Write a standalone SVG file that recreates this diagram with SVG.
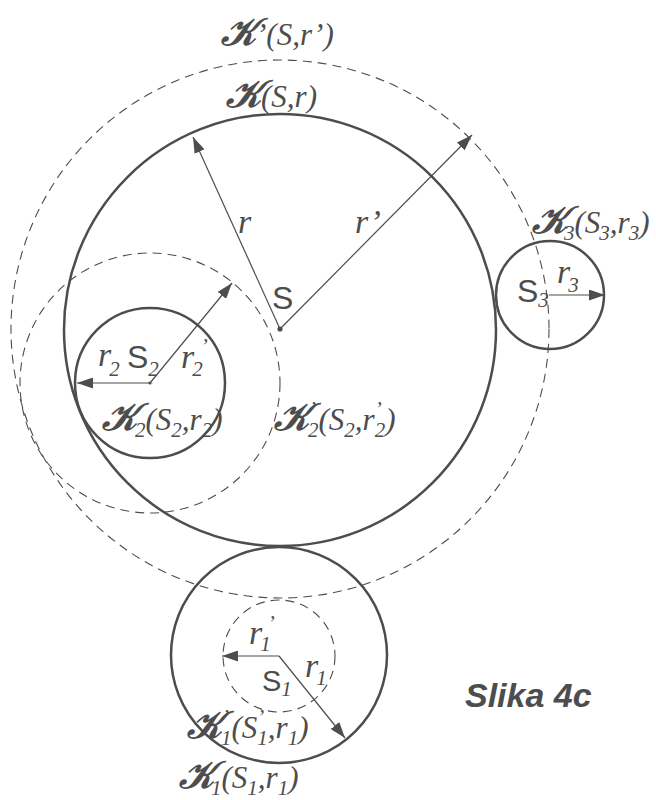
<svg xmlns="http://www.w3.org/2000/svg" width="656" height="800" viewBox="0 0 656 800">
<style>
.c{fill:none;stroke:#4d4d4d;stroke-width:2.5}
.d{fill:none;stroke:#4d4d4d;stroke-width:1.1;stroke-dasharray:9 6}
.a{fill:none;stroke:#4d4d4d;stroke-width:1.2;marker-end:url(#ah)}
.t{font-family:"Liberation Serif","DejaVu Serif",serif;font-style:italic;fill:#4d4d4d;font-size:31px}
.b{font-size:34px}
.u{font-size:21px}
.s{font-family:"Liberation Sans",Arial,sans-serif;fill:#4d4d4d;font-size:32px}
.k{font-family:"DejaVu Serif","DejaVu Sans","Noto Sans",serif;font-weight:bold;font-size:38px}
.sl{font-family:"Liberation Sans",Arial,sans-serif;font-weight:bold;font-style:italic;fill:#4d4d4d;font-size:34px}
</style>
<defs>
<marker id="ah" markerUnits="userSpaceOnUse" markerWidth="16" markerHeight="11" refX="16" refY="5.5" orient="auto">
<path d="M0,0 L16,5.5 L0,11 z" fill="#4d4d4d"/>
</marker>
</defs>
<rect width="656" height="800" fill="#fff"/>

<g id="K-prime">
<circle class="d" cx="280" cy="329" r="269"/>
<text class="t" x="221" y="45"><tspan class="k">𝒦</tspan>’(S,r’)</text>
</g>

<g id="K">
<circle class="c" cx="280" cy="330" r="216"/>
<circle cx="280" cy="329" r="2.6" fill="#4d4d4d"/>
<text class="t" x="226" y="107"><tspan class="k">𝒦</tspan>(S,r)</text>
<text class="s" x="272" y="309">S</text>
</g>

<g id="K2">
<circle class="c" cx="150" cy="383" r="75"/>
<circle cx="150" cy="383" r="1.6" fill="#4d4d4d"/>
<text class="s" x="127" y="368">S<tspan class="t u" dy="8">2</tspan></text>
<text class="t" x="102" y="430"><tspan class="k">𝒦</tspan><tspan class="u" dx="-2" dy="7">2</tspan><tspan dy="-7">(S</tspan><tspan class="u" dy="7">2</tspan><tspan dy="-7">,r</tspan><tspan class="u" dy="7">2</tspan><tspan dy="-7">)</tspan></text>
</g>

<g id="K2-prime">
<circle class="d" cx="150" cy="383" r="130"/>
<text class="t" x="274" y="430"><tspan class="k">𝒦</tspan><tspan class="u" dy="-14">’</tspan><tspan class="u" dx="-8" dy="21">2</tspan><tspan dy="-7">(S</tspan><tspan class="u" dy="7">2</tspan><tspan dy="-7">,r</tspan><tspan class="u" dy="-14">’</tspan><tspan class="u" dx="-7" dy="21">2</tspan><tspan dy="-7">)</tspan></text>
</g>

<g id="K3">
<circle class="c" cx="550" cy="295" r="54"/>
<text class="s" x="517" y="302">S<tspan class="t u" dy="5">3</tspan></text>
<text class="t" x="532" y="233"><tspan class="k">𝒦</tspan><tspan class="u" dx="-3" dy="7">3</tspan><tspan dy="-7">(S</tspan><tspan class="u" dx="-1" dy="7">3</tspan><tspan dy="-7">,r</tspan><tspan class="u" dx="-1" dy="7">3</tspan><tspan dy="-7">)</tspan></text>
</g>

<g id="K1">
<circle class="c" cx="279" cy="655" r="108"/>
<text class="s" x="262" y="691" style="font-size:29px">S<tspan class="t u" dy="5">1</tspan></text>
<text class="t" x="179" y="788"><tspan class="k">𝒦</tspan><tspan class="u" dx="-3" dy="7">1</tspan><tspan dy="-7">(S</tspan><tspan class="u" dy="7">1</tspan><tspan dy="-7">,r</tspan><tspan class="u" dy="7">1</tspan><tspan dy="-7">)</tspan></text>
</g>

<g id="K1-prime">
<circle class="d" cx="279" cy="656" r="56"/>
<text class="t" x="187" y="738"><tspan class="k">𝒦</tspan><tspan class="u" dy="-14">’</tspan><tspan class="u" dx="-8" dy="21">1</tspan><tspan dy="-7">(S</tspan><tspan class="u" dy="-14">’</tspan><tspan class="u" dx="-7" dy="21">1</tspan><tspan dy="-7">,r</tspan><tspan class="u" dy="7">1</tspan><tspan dy="-7">)</tspan></text>
</g>

<g id="connectors">
<line class="a" x1="280" y1="329" x2="193" y2="137"/>
<line class="a" x1="280" y1="329" x2="472" y2="135"/>
<line class="a" x1="150" y1="383" x2="77" y2="383"/>
<line class="a" x1="150" y1="383" x2="232" y2="283"/>
<line class="a" x1="549" y1="295" x2="605" y2="295"/>
<line class="a" x1="279" y1="656" x2="222" y2="656"/>
<line class="a" x1="279" y1="656" x2="345" y2="738"/>
<text class="t b" x="238" y="233">r</text>
<text class="t b" x="355" y="233">r’</text>
<text class="t b" x="98" y="366">r<tspan class="u" dx="-2" dy="10">2</tspan></text>
<text class="t b" x="181" y="368">r<tspan class="u" dx="-2" dy="8">2</tspan><tspan class="u" dx="-2" dy="-23">’</tspan></text>
<text class="t b" x="557" y="283">r<tspan class="u" dx="-2" dy="9">3</tspan></text>
<text class="t b" x="249" y="644">r<tspan class="u" dx="-2" dy="7">1</tspan><tspan class="u" dx="-3" dy="-21">’</tspan></text>
<text class="t b" x="305" y="677">r<tspan class="u" dx="-2" dy="8">1</tspan></text>
</g>

<text class="sl" x="465" y="707">Slika 4c</text>
</svg>
